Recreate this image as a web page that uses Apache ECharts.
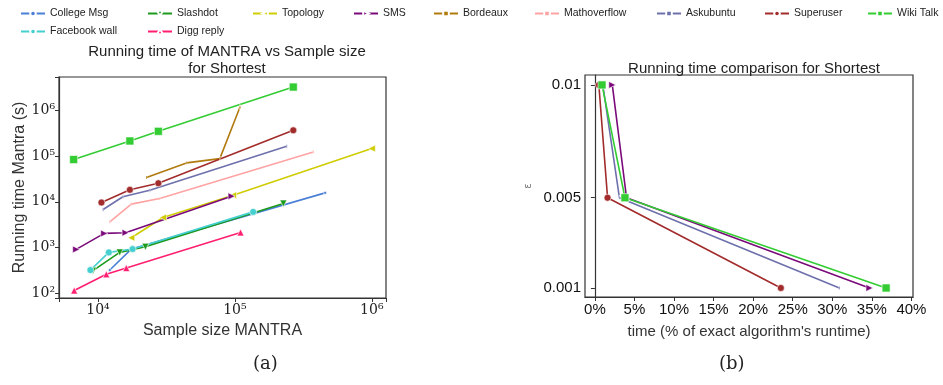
<!DOCTYPE html>
<html>
<head>
<meta charset="utf-8">
<script src="https://cdn.jsdelivr.net/npm/echarts@6/dist/echarts.min.js"></script>
<style>
  html, body { margin: 0; padding: 0; background: #fff; }
  #main { width: 943px; height: 385px; }
</style>
</head>
<body>
<div id="main"></div>
<script>
// ---- data: left panel (sample size vs running time, log-log) ----
const names = ['College Msg', 'Slashdot', 'Topology', 'SMS', 'Bordeaux', 'Mathoverflow',
  'Askubuntu', 'Superuser', 'Wiki Talk', 'Facebook wall', 'Digg reply'];

const collegeSize = [12200, 17500, 22600, 456000];
const collegeTime = [323, 927, 1150, 15700];
const slashdotSize = [9190, 14400, 22200, 226000];
const slashdotTime = [312, 785, 1040, 9200];
const topologySize = [17500, 29900, 97000, 1000000];
const topologyTime = [1640, 4550, 14000, 146000];
const smsSize = [6930, 11100, 15900, 94600];
const smsTime = [912, 2040, 2110, 13300];
const bordeauxSize = [22600, 44300, 77600, 109000];
const bordeauxTime = [34000, 71000, 88000, 1180000];
const mathoverflowSize = [12200, 17500, 28200, 374000];
const mathoverflowTime = [3660, 8900, 11800, 123000];
const askubuntuSize = [10900, 15200, 23900, 239000];
const askubuntuTime = [6800, 12900, 18000, 164000];
const superuserSize = [10600, 17100, 27600, 267000];
const superuserTime = [9660, 18300, 25500, 366000];
const wikiSize = [6640, 17100, 27600, 267000];
const wikiTime = [84000, 214000, 348000, 3230000];
const facebookSize = [8800, 12000, 17900, 136000];
const facebookTime = [322, 785, 927, 6030];
const diggSize = [6700, 11500, 16100, 110000];
const diggTime = [115, 260, 357, 2140];

// ---- data: right panel (epsilon vs % of exact runtime) ----
const epsilons = [0.01, 0.005, 0.001];
const wikiPct = [0.9, 3.8, 36.8];
const smsPct = [2.2, 4.0, 34.7];
const askubuntuPct = [1.0, 3.1, 30.9];
const superuserPct = [0.5, 1.6, 23.5];

const pctTicks = [0, 5, 10, 15, 20, 25, 30, 35, 40];
const epsTicks = [0.001, 0.005, 0.01];

// ---- styles ----
const colors = {
  'College Msg': '#4a7fd6',
  'Slashdot': '#1c9a1c',
  'Topology': '#cfcc00',
  'SMS': '#7a0a7a',
  'Bordeaux': '#b07a0e',
  'Mathoverflow': '#ffa3a3',
  'Askubuntu': '#6e70ac',
  'Superuser': '#a22c2c',
  'Wiki Talk': '#33cc33',
  'Facebook wall': '#45cfcf',
  'Digg reply': '#ff1f70'
};
const marks = {
  'College Msg': { symbol: 'circle', size: 3, rot: 0 },
  'Slashdot': { symbol: 'triangle', size: 7, rot: 180 },
  'Topology': { symbol: 'triangle', size: 7, rot: 90 },
  'SMS': { symbol: 'triangle', size: 7, rot: -90 },
  'Bordeaux': { symbol: 'rect', size: [1, 4], rot: 0 },
  'Mathoverflow': { symbol: 'rect', size: [1, 4], rot: 0 },
  'Askubuntu': { symbol: 'rect', size: [1, 4], rot: 0 },
  'Superuser': { symbol: 'circle', size: 7, rot: 0 },
  'Wiki Talk': { symbol: 'rect', size: 8, rot: 0 },
  'Facebook wall': { symbol: 'circle', size: 7, rot: 0 },
  'Digg reply': { symbol: 'triangle', size: 7, rot: 0 }
};

const leftData = {
  'College Msg': [collegeSize, collegeTime],
  'Slashdot': [slashdotSize, slashdotTime],
  'Topology': [topologySize, topologyTime],
  'SMS': [smsSize, smsTime],
  'Bordeaux': [bordeauxSize, bordeauxTime],
  'Mathoverflow': [mathoverflowSize, mathoverflowTime],
  'Askubuntu': [askubuntuSize, askubuntuTime],
  'Superuser': [superuserSize, superuserTime],
  'Wiki Talk': [wikiSize, wikiTime],
  'Facebook wall': [facebookSize, facebookTime],
  'Digg reply': [diggSize, diggTime]
};
const rightData = {
  'SMS': smsPct,
  'Askubuntu': askubuntuPct,
  'Superuser': superuserPct,
  'Wiki Talk': wikiPct
};

const sup = ['⁰', '¹', '²', '³', '⁴', '⁵', '⁶', '⁷', '⁸', '⁹'];
function powLabel(v) {
  const e = Math.log10(v);
  if (Math.abs(e - Math.round(e)) > 1e-6) return '';
  return '10' + sup[Math.round(e)];
}

function makeSeries(name, pairs, xi) {
  const m = marks[name];
  return {
    name: name,
    type: 'line',
    xAxisIndex: xi,
    yAxisIndex: xi,
    data: pairs,
    symbol: m.symbol,
    symbolSize: m.size,
    symbolRotate: m.rot,
    showAllSymbol: true,
    lineStyle: { color: colors[name], width: 1.6 },
    itemStyle: { color: colors[name], borderColor: '#fff', borderWidth: 0.6 },
    emphasis: { disabled: true },
    animation: false
  };
}

const series = [];
names.forEach(n => {
  const [xs, ys] = leftData[n];
  series.push(makeSeries(n, xs.map((x, i) => [x, ys[i]]), 0));
});
['SMS', 'Askubuntu', 'Superuser', 'Wiki Talk'].forEach(n => {
  series.push(makeSeries(n, rightData[n].map((p, i) => [p, epsilons[i]]), 1));
});

// legend laid out like the matplotlib column grid
const legendCols = [15, 142, 247, 348, 428, 529, 651, 759, 862];
const legends = names.map((n, i) => ({
  data: [n],
  left: legendCols[i % 9],
  top: i < 9 ? 3 : 21,
  itemWidth: 24,
  itemHeight: 7,
  itemGap: 0,
  textStyle: { fontFamily: 'Liberation Sans', fontSize: 10.5, color: '#222' },
  selectedMode: false
}));

const axisLine = { show: true, lineStyle: { color: '#333', width: 1.2 } };
const axisTick = { show: true, length: 4, lineStyle: { color: '#333', width: 1 } };

const chart = echarts.init(document.getElementById('main'));
chart.setOption({
  backgroundColor: '#fff',
  animation: false,
  legend: legends,
  title: [
    {
      text: 'Running time of MANTRA vs Sample size\nfor Shortest',
      left: 222, top: 38, textAlign: 'center',
      textStyle: { fontFamily: 'Liberation Sans', fontSize: 15, fontWeight: 'normal', color: '#222', lineHeight: 17 }
    },
    {
      text: 'Running time comparison for Shortest',
      left: 749, top: 56, textAlign: 'center',
      textStyle: { fontFamily: 'Liberation Sans', fontSize: 15, fontWeight: 'normal', color: '#222' }
    }
  ],
  grid: [
    { left: 59, top: 77, width: 327, height: 221, show: true, borderColor: '#333', borderWidth: 1.2 },
    { left: 585, top: 75, width: 328, height: 222, show: true, borderColor: '#333', borderWidth: 1.2 }
  ],
  xAxis: [
    {
      gridIndex: 0, type: 'log', logBase: 10, min: 5190, max: 1270000,
      name: 'Sample size MANTRA', nameLocation: 'middle', nameGap: 25,
      nameTextStyle: { fontFamily: 'Liberation Sans', fontSize: 16, color: '#333' },
      axisLine: axisLine, axisTick: axisTick, splitLine: { show: false },
      axisLabel: { formatter: powLabel, fontFamily: 'DejaVu Serif', fontSize: 14, color: '#222', margin: 5 }
    },
    {
      gridIndex: 1, type: 'value', min: -1.25, max: 40.2,
      name: "time (% of exact algorithm's runtime)", nameLocation: 'middle', nameGap: 27,
      nameTextStyle: { fontFamily: 'Liberation Sans', fontSize: 15, color: '#333' },
      axisLine: axisLine,
      axisTick: Object.assign({ customValues: pctTicks }, axisTick),
      splitLine: { show: false },
      axisLabel: { customValues: pctTicks, formatter: v => v + '%', fontFamily: 'Liberation Sans', fontSize: 15, color: '#111', margin: 5 }
    }
  ],
  yAxis: [
    {
      gridIndex: 0, type: 'log', logBase: 10, min: 79, max: 5360000,
      name: 'Running time Mantra (s)', nameLocation: 'middle', nameGap: 30,
      nameTextStyle: { fontFamily: 'Liberation Sans', fontSize: 16, color: '#333' },
      axisLine: axisLine, axisTick: axisTick, splitLine: { show: false },
      axisLabel: { formatter: powLabel, fontFamily: 'DejaVu Serif', fontSize: 14, color: '#222', margin: 4 }
    },
    {
      gridIndex: 1, type: 'value', min: 0.0006, max: 0.01044,
      name: 'ε', nameLocation: 'middle', nameGap: 52, nameRotate: 90,
      nameTextStyle: { fontFamily: 'DejaVu Sans', fontSize: 10, color: '#777' },
      axisLine: axisLine,
      axisTick: Object.assign({ customValues: epsTicks }, axisTick),
      splitLine: { show: false },
      axisLabel: { customValues: epsTicks, formatter: v => String(v), fontFamily: 'Liberation Sans', fontSize: 15, color: '#111', margin: 4 }
    }
  ],
  graphic: [
    { type: 'text', left: 253, top: 355, style: { text: '(a)', font: '18px "DejaVu Serif"', fill: '#222' } },
    { type: 'text', left: 719, top: 355, style: { text: '(b)', font: '18px "DejaVu Serif"', fill: '#222' } }
  ],
  series: series
});
</script>
</body>
</html>
